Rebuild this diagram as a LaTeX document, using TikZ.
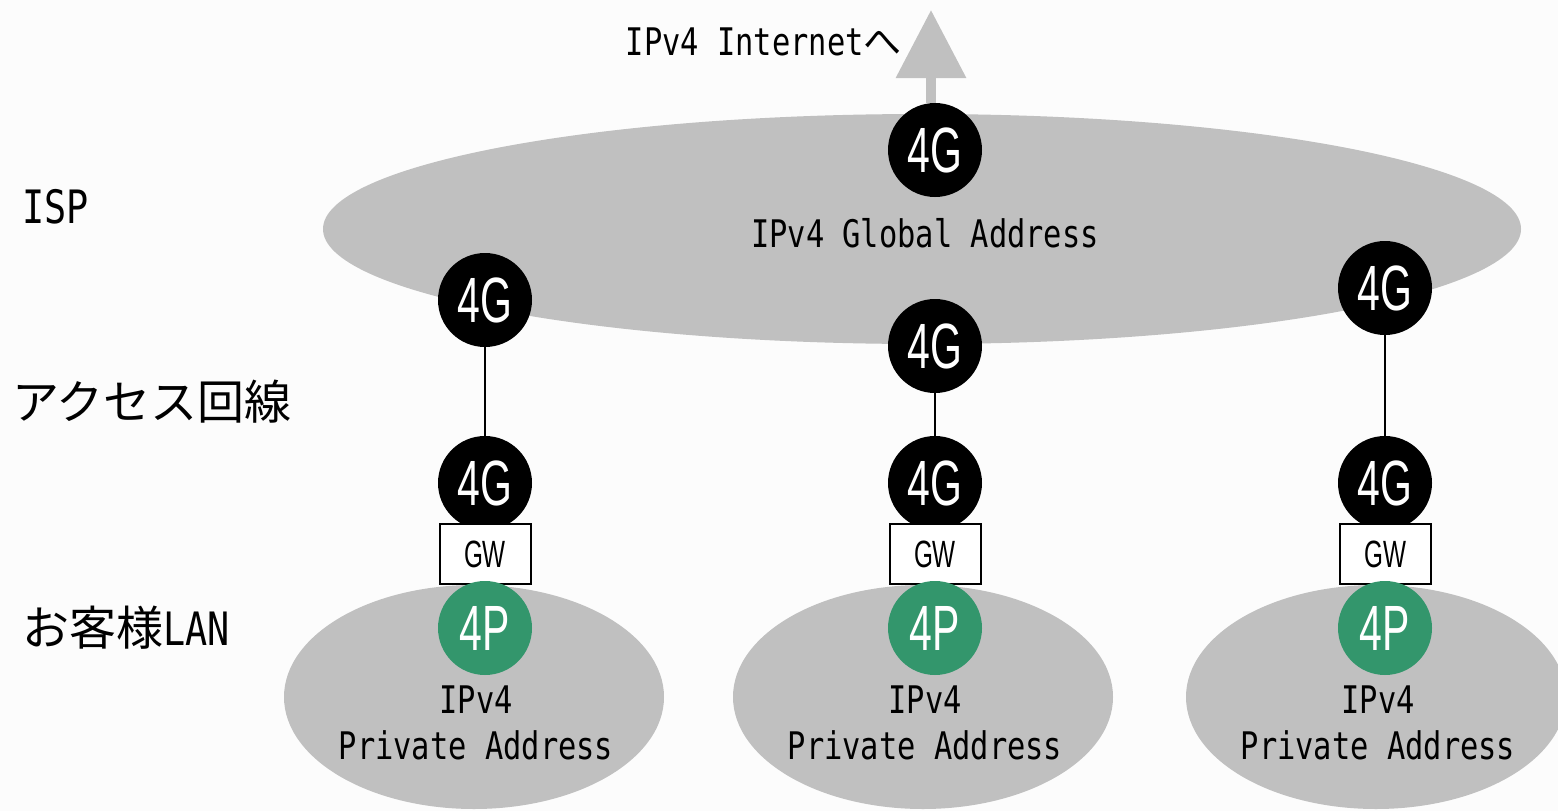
\documentclass[tikz,border=0pt]{standalone}
\usepackage{fontspec}
\setmainfont[FakeStretch=0.8]{DejaVu Sans Mono}
\newfontfamily\cjkfont{Noto Sans CJK JP}
\newfontfamily\narrowfont[FakeStretch=0.64]{Liberation Sans}
\usetikzlibrary{arrows.meta}
\definecolor{ispgray}{RGB}{192,192,192}
\definecolor{privgreen}{RGB}{51,150,108}
\definecolor{paper}{RGB}{252,252,252}

\begin{document}
\begin{tikzpicture}[x=1pt, y=-1pt,
    gnode/.style={circle, fill=black, text=white, minimum size=94pt, inner sep=0pt, font=\narrowfont\fontsize{64}{64}\selectfont},
    pnode/.style={gnode, fill=privgreen},
    gwbox/.style={draw, line width=2pt, fill=white, minimum width=91pt, minimum height=60pt, inner sep=0pt, font=\narrowfont\fontsize{38}{38}\selectfont},
    link/.style={line width=2pt},
    uplink/.style={ispgray, line width=10pt, -{Triangle[length=68pt, width=68pt]}},
    layer/.style={anchor=west, inner sep=0pt, font=\fontsize{46}{46}\selectfont},
    addr/.style={align=center, inner sep=0pt, font=\fontsize{38}{46}\selectfont}]

    \fill[paper] (0,0) rectangle (1558,811);
    \useasboundingbox (0,0) rectangle (1558,811);

    % ISP
    \fill[ispgray] (922,229) ellipse [x radius=599, y radius=115];
    \node[gnode] (g0) at (935,150) {4G};
    \node[addr] (global) at (925,233) {IPv4 Global Address};
    \coordinate (inet) at (931,10);
    \draw[uplink] (g0.north -| inet) -- (inet);
    \node[addr, anchor=east] (inettext) at (902,42) {IPv4 Internet{\cjkfont へ}};

    % layer labels
    \node[layer] (isp) at (22,207) {ISP};
    \node[layer, font=\cjkfont\fontsize{47}{47}\selectfont] (access) at (12,402) {アクセス回線};
    \node[layer] (lan) at (22,628) {{\cjkfont\fontsize{47}{47}\selectfont お客様}LAN};

    % customer sites
    \foreach \n/\x/\y/\ex in {1/485/300/474, 2/935/346/923, 3/1385/288/1376} {
        \fill[ispgray] (\ex,697) ellipse [x radius=190, y radius=112];
        \node[gnode] (g\n) at (\x,\y) {4G};
        \node[gnode] (c\n) at (\x,483) {4G};
        \node[gwbox] (gw\n) at (\x,554) {GW};
        \node[pnode] (p\n) at (\x,628) {4P};
        \node[addr] (a\n) at (\ex+2,723) {IPv4\\Private Address};
        \draw[link] (g\n) -- (c\n);
    }
\end{tikzpicture}
\end{document}
